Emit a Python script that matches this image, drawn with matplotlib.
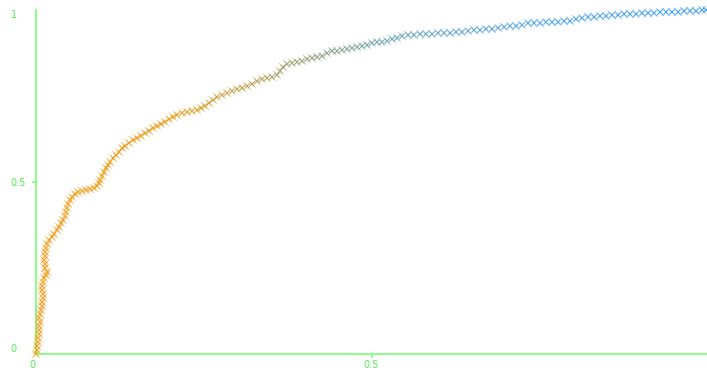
import numpy as np
import matplotlib
matplotlib.use("Agg")
import matplotlib.pyplot as plt
from matplotlib.colors import LinearSegmentedColormap

# ROC curve samples: false positive rate vs true positive rate
fpr = [0.000, 0.0015, 0.0015, 0.003, 0.003, 0.0045, 0.0045, 0.0045, 0.006, 0.0045,
       0.006, 0.0075, 0.009, 0.009, 0.0104, 0.0104, 0.009, 0.009, 0.0104, 0.0119,
       0.0149, 0.0164, 0.0134, 0.0134, 0.0119, 0.0134, 0.0134, 0.0149, 0.0164, 0.0194,
       0.0238, 0.0268, 0.0313, 0.0343, 0.0373, 0.0402, 0.0432, 0.0447, 0.0462, 0.0477,
       0.0507, 0.0537, 0.0581, 0.0626, 0.0686, 0.0745, 0.0805, 0.0864, 0.0909, 0.0939,
       0.0954, 0.0984, 0.1013, 0.1043, 0.1073, 0.1103, 0.1148, 0.1192, 0.1237, 0.1282,
       0.1326, 0.1386, 0.1446, 0.1505, 0.1565, 0.1624, 0.1684, 0.1744, 0.1803, 0.1863,
       0.1923, 0.1982, 0.2042, 0.2101, 0.2176, 0.2250, 0.2325, 0.2399, 0.2459, 0.2519,
       0.2578, 0.2638, 0.2697, 0.2772, 0.2846, 0.2921, 0.2996, 0.3070, 0.3145, 0.3219,
       0.3294, 0.3368, 0.3443, 0.3517, 0.3592, 0.3636, 0.3681, 0.3741, 0.3815, 0.3890,
       0.3964, 0.4039, 0.4113, 0.4188, 0.4262, 0.4337, 0.4411, 0.4486, 0.4560, 0.4635,
       0.4709, 0.4784, 0.4858, 0.4933, 0.5007, 0.5082, 0.5156, 0.5231, 0.5306, 0.5380,
       0.5455, 0.5544, 0.5633, 0.5723, 0.5812, 0.5902, 0.5991, 0.6080, 0.6170, 0.6259,
       0.6349, 0.6438, 0.6528, 0.6617, 0.6706, 0.6796, 0.6885, 0.6975, 0.7064, 0.7154,
       0.7243, 0.7332, 0.7422, 0.7511, 0.7601, 0.7690, 0.7779, 0.7869, 0.7958, 0.8048,
       0.8137, 0.8227, 0.8316, 0.8405, 0.8495, 0.8584, 0.8674, 0.8763, 0.8852, 0.8942,
       0.9031, 0.9121, 0.9210, 0.9300, 0.9389, 0.9478, 0.9568, 0.9657, 0.9747, 0.9836,
       0.9925, 0.9985]
tpr = [0.000, 0.0116, 0.0233, 0.0349, 0.0465, 0.0581, 0.0698, 0.0814, 0.0930, 0.1047,
       0.1163, 0.1279, 0.1395, 0.1512, 0.1628, 0.1744, 0.1860, 0.1977, 0.2093, 0.2209,
       0.2297, 0.2384, 0.2500, 0.2616, 0.2733, 0.2849, 0.2965, 0.3081, 0.3198, 0.3314,
       0.3401, 0.3488, 0.3605, 0.3692, 0.3808, 0.3895, 0.4012, 0.4128, 0.4244, 0.4360,
       0.4477, 0.4564, 0.4651, 0.4709, 0.4738, 0.4767, 0.4797, 0.4826, 0.4884, 0.4971,
       0.5058, 0.5174, 0.5291, 0.5407, 0.5494, 0.5581, 0.5698, 0.5785, 0.5872, 0.5988,
       0.6047, 0.6134, 0.6221, 0.6279, 0.6337, 0.6424, 0.6483, 0.6570, 0.6628, 0.6686,
       0.6744, 0.6831, 0.6890, 0.6948, 0.7006, 0.7035, 0.7064, 0.7093, 0.7151, 0.7209,
       0.7297, 0.7384, 0.7471, 0.7529, 0.7587, 0.7645, 0.7703, 0.7733, 0.7791, 0.7849,
       0.7936, 0.7994, 0.8023, 0.8052, 0.8110, 0.8227, 0.8343, 0.8430, 0.8459, 0.8488,
       0.8517, 0.8576, 0.8605, 0.8634, 0.8663, 0.8750, 0.8808, 0.8808, 0.8837, 0.8866,
       0.8895, 0.8924, 0.8953, 0.8983, 0.9041, 0.9070, 0.9070, 0.9099, 0.9157, 0.9186,
       0.9244, 0.9273, 0.9273, 0.9302, 0.9302, 0.9302, 0.9331, 0.9331, 0.9331, 0.9360,
       0.9360, 0.9390, 0.9419, 0.9419, 0.9448, 0.9448, 0.9477, 0.9506, 0.9535, 0.9535,
       0.9564, 0.9622, 0.9622, 0.9622, 0.9651, 0.9651, 0.9651, 0.9680, 0.9680, 0.9738,
       0.9767, 0.9797, 0.9797, 0.9826, 0.9826, 0.9855, 0.9855, 0.9884, 0.9884, 0.9884,
       0.9913, 0.9913, 0.9913, 0.9942, 0.9942, 0.9942, 0.9942, 0.9971, 0.9971, 0.9971,
       1.0000, 1.0000]

x_ticks = [0, 0.5]
x_tick_labels = ["0", "0.5"]
y_ticks = [0, 0.5, 1]
y_tick_labels = ["0", "0.5", "1"]

axis_green = "#80ff80"
label_green = "#4cf04c"

fig = plt.figure(figsize=(7.07, 3.71), dpi=100)
ax = fig.add_axes([36 / 707, 17 / 371, 671 / 707, 344 / 371])

# orange -> olive -> teal -> blue along the false positive rate
cmap = LinearSegmentedColormap.from_list(
    "orange_blue",
    [(0.0, "#f5960a"), (0.22, "#e2980f"), (0.32, "#b49a45"),
     (0.42, "#879a78"), (0.55, "#5a9cb8"), (0.75, "#3c9be0"), (1.0, "#2a95f5")])

# two overlapping passes of thin crosses give the dense, ragged band
ax.scatter(fpr, tpr, c=fpr, cmap=cmap, vmin=0, vmax=1, marker="x",
           s=34, linewidths=0.55, alpha=0.55, clip_on=False, zorder=3)
ax.scatter(fpr, tpr, c=fpr, cmap=cmap, vmin=0, vmax=1, marker="x",
           s=12, linewidths=0.8, alpha=0.7, clip_on=False, zorder=4)

ax.set_xlim(0, 1)
ax.set_ylim(0, 1)

for side in ("top", "right"):
    ax.spines[side].set_visible(False)
for side in ("left", "bottom"):
    ax.spines[side].set_color(axis_green)
    ax.spines[side].set_linewidth(1.3)

ax.set_xticks(x_ticks)
ax.set_xticklabels(x_tick_labels)
ax.set_yticks(y_ticks)
ax.set_yticklabels(y_tick_labels)
ax.tick_params(axis="both", colors=axis_green, labelcolor=label_green,
               labelsize=7, length=2.6, width=1.2)
ax.tick_params(axis="x", pad=1.5)
ax.tick_params(axis="y", pad=15.5)

# tick marks only at the middle value; edge labels stay inside the plot box
ax.xaxis.get_major_ticks()[0].tick1line.set_visible(False)
for i in (0, 2):
    ax.yaxis.get_major_ticks()[i].tick1line.set_visible(False)
for lab in ax.get_yticklabels():
    lab.set_horizontalalignment("left")
ylabs = ax.get_yticklabels()
ylabs[0].set_verticalalignment("bottom")
ylabs[2].set_verticalalignment("top")
ax.get_xticklabels()[0].set_horizontalalignment("right")

fig.savefig("out.png", dpi=100, facecolor="white")
